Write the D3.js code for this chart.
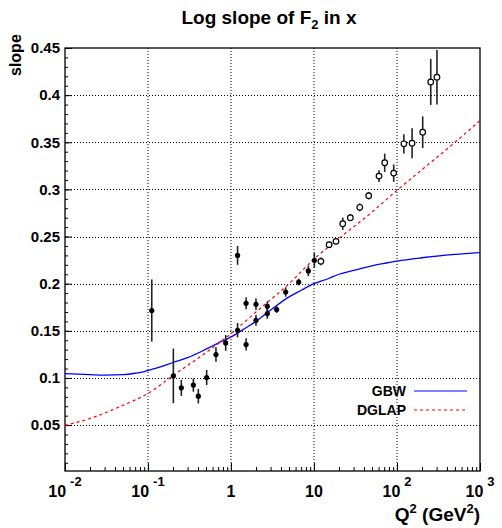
<!DOCTYPE html>
<html>
<head>
<meta charset="utf-8">
<script src="https://cdn.jsdelivr.net/npm/d3@7"></script>
<style>
  body { margin: 0; background: #fff; }
  text { font-family: "Liberation Sans", Arial, Helvetica, sans-serif; font-weight: bold; fill: #000; }
</style>
</head>
<body>
<div class="slopeplot"></div>
<script>
// data
var lowQ2    = [0.111, 0.202, 0.252, 0.352, 0.404, 0.509, 0.659, 0.863, 1.20, 1.20, 1.52, 1.52, 2.0, 2.0, 2.74, 2.74, 3.55, 4.56, 6.54, 8.55, 10.1];
var lowSlope = [0.1715, 0.1022, 0.0895, 0.0924, 0.0807, 0.1005, 0.1249, 0.1372, 0.230, 0.1506, 0.1792, 0.1355, 0.1782, 0.1612, 0.176, 0.1683, 0.1725, 0.1912, 0.2018, 0.2135, 0.2248];
var lowErr   = [0.033, 0.029, 0.0085, 0.007, 0.0077, 0.008, 0.0076, 0.0083, 0.010, 0.0076, 0.0064, 0.0065, 0.0062, 0.0057, 0.0053, 0.0055, 0.0035, 0.005, 0.0035, 0.0055, 0.008];

var highQ2    = [12.1, 15.2, 18.4, 22.2, 27.4, 35.6, 45.6, 60.7, 71.1, 91.2, 121, 152, 204, 255, 303];
var highSlope = [0.2237, 0.2414, 0.2449, 0.2636, 0.270, 0.281, 0.2933, 0.3141, 0.3283, 0.3173, 0.3484, 0.349, 0.3607, 0.414, 0.419];
var highErr   = [0.0042, 0.003, 0.003, 0.0065, 0.0037, 0.0042, 0.004, 0.0062, 0.0097, 0.0092, 0.0102, 0.0159, 0.0168, 0.0244, 0.029];

var gbwQ2    = [0.01, 0.02, 0.03, 0.05, 0.07, 0.09, 0.1, 0.12, 0.15, 0.2, 0.3, 0.5, 0.7, 1, 1.5, 2, 3, 5, 7, 10, 15, 20, 30, 50, 70, 100, 200, 500, 1000];
var gbwSlope = [0.1045, 0.1035, 0.103, 0.1035, 0.105, 0.1068, 0.108, 0.1098, 0.1125, 0.1164, 0.1215, 0.1305, 0.137, 0.1435, 0.153, 0.160, 0.172, 0.186, 0.193, 0.200, 0.2055, 0.210, 0.214, 0.219, 0.2215, 0.224, 0.2275, 0.231, 0.233];

var dglapQ2    = [0.01, 0.02, 0.05, 0.1, 0.2, 0.5, 1, 2, 5, 10, 20, 50, 100, 200, 500, 1000];
var dglapSlope = [0.0497, 0.057, 0.071, 0.0836, 0.1025, 0.127, 0.147, 0.170, 0.200, 0.226, 0.248, 0.276, 0.299, 0.321, 0.350, 0.373];

var yTicks = [0.05, 0.1, 0.15, 0.2, 0.25, 0.3, 0.35, 0.4, 0.45];
var xTicks = [0.01, 0.1, 1, 10, 100, 1000];
var xTickBase = ["10", "10", "1", "10", "10", "10"];
var xTickExp  = ["-2", "-1", "", "", "2", "3"];

// set the dimensions and margins of the graph
var margin = {top: 48, right: 22, bottom: 57, left: 65},
    width = 502 - margin.left - margin.right,
    height = 528 - margin.top - margin.bottom;

var svg = d3.select(".slopeplot")
  .append("svg")
  .attr("width", 502)
  .attr("height", 528);

var plot = svg.append("g")
  .attr("transform", "translate(" + margin.left + "," + margin.top + ")");

var x = d3.scaleLog().domain([0.01, 1000]).range([0, width]);
var y = d3.scaleLinear().domain([0.0013, 0.45]).range([height, 0]);

// grid
plot.selectAll("xgrid")
  .data(xTicks.slice(1, -1))
  .enter().append("line")
  .attr("x1", function(d) { return x(d); })
  .attr("x2", function(d) { return x(d); })
  .attr("y1", 0).attr("y2", height)
  .attr("stroke", "#000").attr("stroke-width", 1)
  .attr("stroke-dasharray", "1,2");

plot.selectAll("ygrid")
  .data(yTicks.slice(0, -1))
  .enter().append("line")
  .attr("x1", 0).attr("x2", width)
  .attr("y1", function(d) { return Math.round(y(d)) + 0.5; })
  .attr("y2", function(d) { return Math.round(y(d)) + 0.5; })
  .attr("stroke", "#000").attr("stroke-width", 1)
  .attr("stroke-dasharray", "1,2");

// X axis (ticks inside, labels drawn by hand for the powers of ten)
var xMinor = [];
for (var e = -2; e < 3; e++) for (var m = 2; m < 10; m++) xMinor.push(m * Math.pow(10, e));

plot.append("g")
  .attr("transform", "translate(0," + height + ")")
  .call(d3.axisBottom(x).tickValues(xMinor).tickSize(-4).tickFormat(""))
  .call(function(g) { g.select(".domain").remove(); });

plot.append("g")
  .attr("transform", "translate(0," + height + ")")
  .call(d3.axisBottom(x).tickValues(xTicks).tickSize(-8).tickFormat(""))
  .call(function(g) { g.select(".domain").remove(); });

var xl = plot.selectAll("xlab")
  .data(xTicks)
  .enter().append("text")
  .attr("x", function(d) { return x(d); })
  .attr("y", height + 26)
  .attr("text-anchor", "middle")
  .attr("font-size", "16px");
xl.append("tspan").text(function(d, i) { return xTickBase[i]; });
xl.append("tspan")
  .attr("dx", 4).attr("dy", -11)
  .attr("font-size", "13px")
  .text(function(d, i) { return xTickExp[i]; });

// Y axis
var yMinor = d3.range(1, 45).map(function(i) { return i / 100; });

plot.append("g")
  .call(d3.axisLeft(y).tickValues(yMinor).tickSize(-3).tickFormat(""))
  .call(function(g) { g.select(".domain").remove(); });

plot.append("g")
  .call(d3.axisLeft(y).tickValues(yTicks).tickSize(-7).tickPadding(5)
        .tickFormat(function(d) { return String(+d.toFixed(2)); }))
  .call(function(g) {
    g.select(".domain").remove();
    g.selectAll("text").attr("font-size", "15px").attr("font-family", null);
  });

// frame
plot.append("rect")
  .attr("width", width).attr("height", height)
  .attr("fill", "none").attr("stroke", "#000").attr("stroke-width", 1.3);

// clip for curves and error bars
plot.append("clipPath").attr("id", "clip")
  .append("rect").attr("width", width).attr("height", height);

var inner = plot.append("g").attr("clip-path", "url(#clip)");

// curves
var line = d3.line()
  .x(function(d) { return x(d[0]); })
  .y(function(d) { return y(d[1]); })
  .curve(d3.curveMonotoneX);

inner.append("path")
  .datum(gbwQ2.map(function(q, i) { return [q, gbwSlope[i]]; }))
  .attr("d", line)
  .attr("fill", "none").attr("stroke", "#0000ff").attr("stroke-width", 1.3);

inner.append("path")
  .datum(dglapQ2.map(function(q, i) { return [q, dglapSlope[i]]; }))
  .attr("d", line)
  .attr("fill", "none").attr("stroke", "#ff0000").attr("stroke-width", 1.2)
  .attr("stroke-dasharray", "3,3");

// error bars
var lowData = lowQ2.map(function(q, i) { return {q: q, s: lowSlope[i], e: lowErr[i]}; });
var highData = highQ2.map(function(q, i) { return {q: q, s: highSlope[i], e: highErr[i]}; });

inner.selectAll("errbar")
  .data(lowData.concat(highData))
  .enter().append("line")
  .attr("x1", function(d) { return x(d.q); })
  .attr("x2", function(d) { return x(d.q); })
  .attr("y1", function(d) { return y(d.s + d.e); })
  .attr("y2", function(d) { return y(d.s - d.e); })
  .attr("stroke", "#222").attr("stroke-width", 1.6);

// filled points
inner.selectAll("lowpt")
  .data(lowData)
  .enter().append("circle")
  .attr("cx", function(d) { return x(d.q); })
  .attr("cy", function(d) { return y(d.s); })
  .attr("r", 2.6)
  .attr("fill", "#000");

// open points
inner.selectAll("highpt")
  .data(highData)
  .enter().append("circle")
  .attr("cx", function(d) { return x(d.q); })
  .attr("cy", function(d) { return y(d.s); })
  .attr("r", 2.8)
  .attr("fill", "#fff").attr("stroke", "#000").attr("stroke-width", 1.2);

// legend
var legend = [
  {name: "GBW", color: "#0000ff", dash: null, yy: 343},
  {name: "DGLAP", color: "#ff0000", dash: "3,3", yy: 362}
];
legend.forEach(function(l) {
  plot.append("text")
    .attr("x", 341).attr("y", l.yy + 5)
    .attr("text-anchor", "end")
    .attr("font-size", "14px")
    .text(l.name);
  plot.append("line")
    .attr("x1", 349).attr("x2", 402)
    .attr("y1", l.yy).attr("y2", l.yy)
    .attr("stroke", l.color).attr("stroke-width", 1.2)
    .attr("stroke-dasharray", l.dash);
});

// titles
var title = svg.append("text")
  .attr("x", 269).attr("y", 24)
  .attr("text-anchor", "middle")
  .attr("font-size", "19px");
title.append("tspan").text("Log slope of F");
title.append("tspan").attr("dy", 5).attr("font-size", "13px").text("2");
title.append("tspan").attr("dy", -5).text(" in x");

// y axis title, bottom of the word at y = 76
svg.append("text")
  .attr("x", 21).attr("y", 76)
  .attr("transform", "rotate(-90,21,76)")
  .attr("text-anchor", "start")
  .attr("font-size", "16px")
  .text("slope");

var xt = svg.append("text")
  .attr("x", 480).attr("y", 521)
  .attr("text-anchor", "end")
  .attr("font-size", "19px");
xt.append("tspan").text("Q");
xt.append("tspan").attr("dy", -8).attr("font-size", "13px").text("2");
xt.append("tspan").attr("dy", 8).text(" (GeV");
xt.append("tspan").attr("dy", -8).attr("font-size", "13px").text("2");
xt.append("tspan").attr("dy", 8).text(")");
</script>
</body>
</html>
